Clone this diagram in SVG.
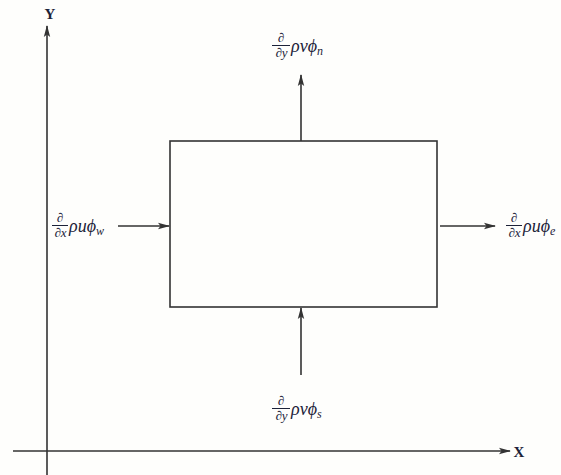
<svg xmlns="http://www.w3.org/2000/svg" width="561" height="475" viewBox="0 0 561 475">
<style>
.ln{stroke:#333;stroke-width:1.6;fill:none}
.t{font-family:"Liberation Serif","DejaVu Serif",serif;font-style:italic;fill:#1c2238}
.m{font-size:18px}
.f{font-size:13px}
.s{font-size:12px}
.ax{font-family:"Liberation Serif","DejaVu Serif",serif;font-weight:bold;font-size:15px;fill:#1c2238}
.fl{stroke:#1c2238;stroke-width:1}
</style>
<defs>
<marker id="ah" viewBox="0 0 12 8" refX="11" refY="4" markerWidth="12" markerHeight="8" markerUnits="userSpaceOnUse" orient="auto">
<path d="M0,0.8 L12,4 L0,7.2 L2.5,4 Z" fill="#333"/>
</marker>
</defs>
<rect width="561" height="475" fill="#fefefc"/>
<g id="axes">
<line class="ln" x1="47" y1="475" x2="47" y2="26" marker-end="url(#ah)"/>
<line class="ln" x1="13" y1="451" x2="510" y2="451" marker-end="url(#ah)"/>
<text class="ax" x="50" y="19" text-anchor="middle">Y</text>
<text class="ax" x="519" y="457" text-anchor="middle">X</text>
</g>
<g id="cv">
<rect x="170" y="141" width="267" height="166" class="ln"/>
</g>
<g id="connectors">
<line class="ln" x1="301" y1="141" x2="301" y2="75" marker-end="url(#ah)"/>
<line class="ln" x1="301" y1="375" x2="301" y2="308" marker-end="url(#ah)"/>
<line class="ln" x1="118" y1="226" x2="169" y2="226" marker-end="url(#ah)"/>
<line class="ln" x1="440" y1="226" x2="495" y2="226" marker-end="url(#ah)"/>
</g>
<g id="label-n">
<text class="t f" x="281" y="42" text-anchor="middle">∂</text>
<line class="fl" x1="272" y1="45.5" x2="290" y2="45.5"/>
<text class="t f" x="281.5" y="57" text-anchor="middle">∂y</text>
<text class="t m" x="291" y="52">ρvϕ<tspan class="s" dy="3">n</tspan></text>
</g>
<g id="label-w">
<text class="t f" x="60" y="222" text-anchor="middle">∂</text>
<line class="fl" x1="52" y1="225.5" x2="68" y2="225.5"/>
<text class="t f" x="60.5" y="237" text-anchor="middle">∂x</text>
<text class="t m" x="69" y="232">ρuϕ<tspan class="s" dy="3">w</tspan></text>
</g>
<g id="label-e">
<text class="t f" x="514" y="222" text-anchor="middle">∂</text>
<line class="fl" x1="506" y1="225.5" x2="522" y2="225.5"/>
<text class="t f" x="514.5" y="237" text-anchor="middle">∂x</text>
<text class="t m" x="523" y="232">ρuϕ<tspan class="s" dy="3">e</tspan></text>
</g>
<g id="label-s">
<text class="t f" x="281" y="405" text-anchor="middle">∂</text>
<line class="fl" x1="272" y1="408.5" x2="290" y2="408.5"/>
<text class="t f" x="281.5" y="420" text-anchor="middle">∂y</text>
<text class="t m" x="291" y="415">ρvϕ<tspan class="s" dy="3">s</tspan></text>
</g>
</svg>
